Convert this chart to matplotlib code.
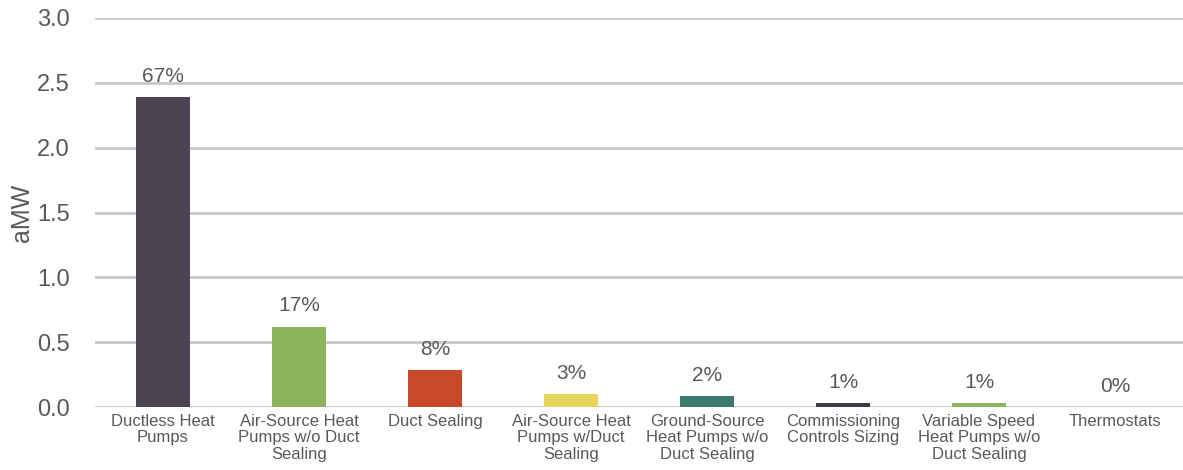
import numpy as np
import matplotlib
matplotlib.use("Agg")
import matplotlib.pyplot as plt

plt.rcParams['font.family'] = ['Liberation Sans', 'DejaVu Sans']

# data
categories = ['Ductless Heat\nPumps', 'Air-Source Heat\nPumps w/o Duct\nSealing', 'Duct Sealing',
              'Air-Source Heat\nPumps w/Duct\nSealing', 'Ground-Source\nHeat Pumps w/o\nDuct Sealing',
              'Commissioning\nControls Sizing', 'Variable Speed\nHeat Pumps w/o\nDuct Sealing', 'Thermostats']
amw = [2.39, 0.62, 0.285, 0.10, 0.085, 0.03, 0.03, 0.0]
shares = ['67%', '17%', '8%', '3%', '2%', '1%', '1%', '0%']
colors = ['#4a4452', '#8db55e', '#c8482a', '#e6d75c', '#3f7a6e', '#3e3b44', '#8db55e', '#8db55e']

txt = '#595959'
fig = plt.figure(figsize=(11.83, 4.70), dpi=100)
ax = fig.add_axes([95/1183, 1-407/470, 1-95/1183, (407-18)/470])

x = np.arange(len(categories))
bars = ax.bar(x, amw, width=0.4, color=colors, zorder=3)
for b, s in zip(bars, shares):
    ax.annotate(s, (b.get_x() + b.get_width()/2, b.get_height()), xytext=(0, 15),
                textcoords='offset points', ha='center', va='center', fontsize=15, color=txt)

ax.set_xlim(-0.5, len(categories) - 0.5)
ax.set_ylim(0, 3.0)
ax.set_yticks(np.arange(0, 3.01, 0.5))
ax.set_yticklabels([f'{v:.1f}' for v in np.arange(0, 3.01, 0.5)])
ax.yaxis.grid(True, color='#c8c8c8', linewidth=2, zorder=0)
ax.set_axisbelow(True)
for sp in ax.spines.values():
    sp.set_visible(False)
ax.tick_params(axis='y', length=0, pad=18, labelsize=17, labelcolor=txt)
ax.tick_params(axis='x', length=0, pad=5, labelsize=12, labelcolor=txt)
ax.set_xticks(x)
ax.set_xticklabels(categories, linespacing=1.12)
ax.set_ylabel('aMW', fontsize=18, color=txt, labelpad=2)

fig.savefig('out.png', dpi=100)
